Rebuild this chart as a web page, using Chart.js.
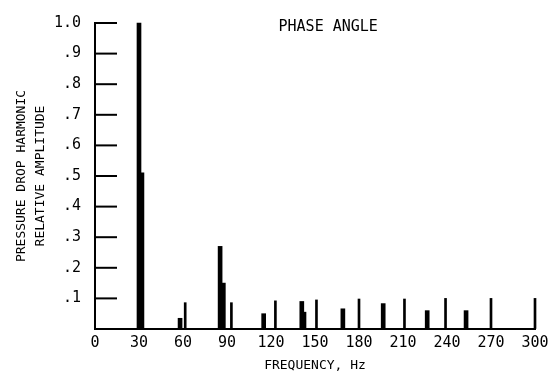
<!DOCTYPE html>
<html>
<head>
<meta charset="utf-8">
<script src="https://cdn.jsdelivr.net/npm/chart.js@4/dist/chart.umd.min.js"></script>
<style>
  body { margin: 0; background: #fff; }
</style>
</head>
<body>
<canvas id="spectrum" width="554" height="378"></canvas>
<script>
// harmonic peaks
const peakHz  = [30, 32, 58, 85.3, 87.5, 115, 141, 142.5, 169, 196.5, 226.5, 253];
const peakAmp = [1.0, 0.51, 0.035, 0.27, 0.15, 0.05, 0.09, 0.055, 0.066, 0.083, 0.06, 0.06];

// thin phase angle marks
const phaseHz  = [61.5, 93, 123, 151, 180, 211, 239, 270, 300];
const phaseAmp = [0.086, 0.086, 0.092, 0.095, 0.098, 0.098, 0.10, 0.10, 0.10];

const xTicks = [0, 30, 60, 90, 120, 150, 180, 210, 240, 270, 300];
const yTicks = [0, 0.1, 0.2, 0.3, 0.4, 0.5, 0.6, 0.7, 0.8, 0.9, 1.0];
const noteText = 'PHASE ANGLE';

const mono = '"DejaVu Sans Mono", "Liberation Mono", monospace';

function yLabel(v) {
    if (v === 0) return '';
    if (v === 1) return '1.0';
    return '.' + Math.round(v * 10);
}

// y ticks point inward in the original, plus the floating note
const inwardTicks = {
    id: 'inwardTicks',
    afterDraw(chart) {
        const ctx = chart.ctx;
        const y = chart.scales.y;
        const x = chart.scales.x;
        const area = chart.chartArea;
        ctx.save();
        ctx.strokeStyle = '#000';
        ctx.lineWidth = 2;
        yTicks.forEach(v => {
            if (v === 0) return;
            const py = y.getPixelForValue(v);
            ctx.beginPath();
            ctx.moveTo(area.left, py);
            ctx.lineTo(area.left + 22, py);
            ctx.stroke();
        });
        ctx.fillStyle = '#000';
        ctx.font = '15px ' + mono;
        ctx.textAlign = 'center';
        ctx.textBaseline = 'middle';
        ctx.fillText(noteText, x.getPixelForValue(159), y.getPixelForValue(0.985));
        ctx.restore();
    }
};

new Chart(document.getElementById('spectrum').getContext('2d'), {
    type: 'bar',
    data: {
        datasets: [
            {
                label: 'harmonics',
                data: peakHz.map((f, i) => ({ x: f, y: peakAmp[i] })),
                backgroundColor: '#000',
                barThickness: 4,
                grouped: false,
                clip: false
            },
            {
                label: 'phase angle',
                data: phaseHz.map((f, i) => ({ x: f, y: phaseAmp[i] })),
                backgroundColor: '#000',
                barThickness: 2,
                grouped: false,
                clip: false
            }
        ]
    },
    options: {
        responsive: false,
        animation: false,
        layout: { padding: { top: 15, right: 19, bottom: 0, left: 0 } },
        plugins: {
            legend: { display: false },
            tooltip: { enabled: false }
        },
        scales: {
            x: {
                type: 'linear',
                min: 0,
                max: 300,
                offset: false,
                afterBuildTicks: s => { s.ticks = xTicks.map(v => ({ value: v })); },
                afterFit: s => { s.height = 49; },
                grid: { drawOnChartArea: false, drawTicks: false },
                border: { color: '#000', width: 2 },
                ticks: {
                    color: '#000',
                    padding: 5,
                    maxRotation: 0,
                    autoSkip: false,
                    font: { family: mono, size: 15 }
                },
                title: {
                    display: true,
                    text: 'FREQUENCY, Hz',
                    color: '#000',
                    font: { family: mono, size: 13 },
                    padding: { top: 0, bottom: 5 }
                }
            },
            y: {
                min: 0,
                max: 1,
                afterBuildTicks: s => { s.ticks = yTicks.map(v => ({ value: v })); },
                afterFit: s => { s.width = 95; },
                grid: { drawOnChartArea: false, drawTicks: false },
                border: { color: '#000', width: 2 },
                ticks: {
                    color: '#000',
                    padding: 14,
                    autoSkip: false,
                    callback: v => yLabel(v),
                    font: { family: mono, size: 15 }
                },
                title: {
                    display: true,
                    text: ['PRESSURE DROP HARMONIC', 'RELATIVE AMPLITUDE'],
                    color: '#000',
                    font: { family: mono, size: 13, lineHeight: 1.4 },
                    padding: { top: 13, bottom: 0 }
                }
            }
        }
    },
    plugins: [inwardTicks]
});
</script>
</body>
</html>
